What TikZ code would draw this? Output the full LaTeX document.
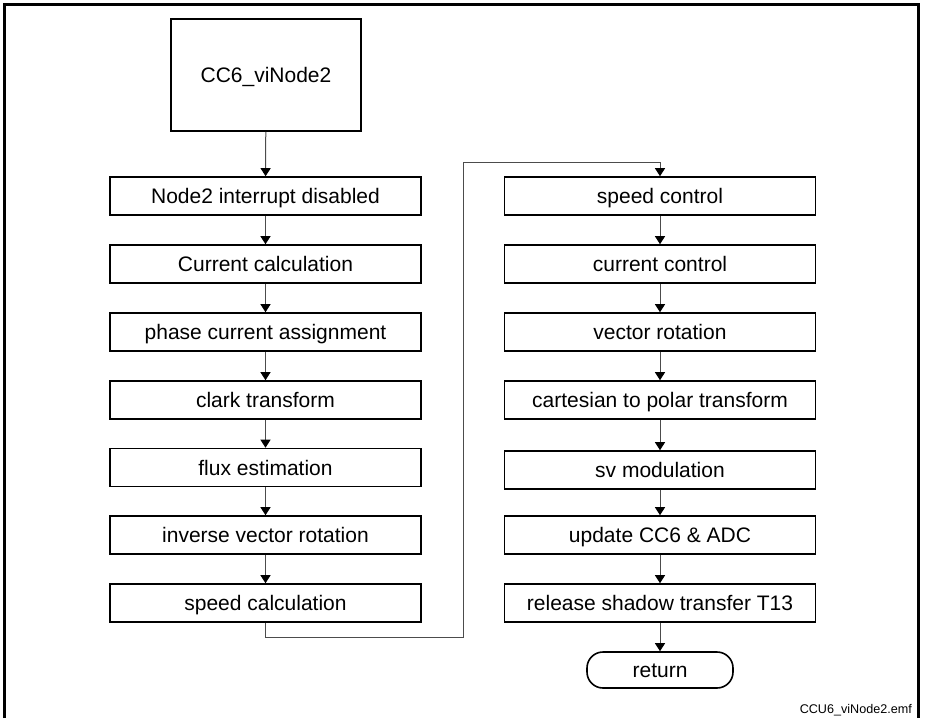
\documentclass[tikz,border=0pt]{standalone}
\usepackage{fontspec}
\setmainfont{Liberation Sans}
\usetikzlibrary{arrows.meta}

\begin{document}
\begin{tikzpicture}[x=1pt, y=-1pt,
    stepbox/.style={draw, line width=1.6pt, minimum width=311pt, minimum height=38pt, inner sep=0pt, text height=15pt, text depth=0pt, font=\fontsize{21}{25}\selectfont},
    flow/.style={draw=black!70, line width=1pt, -{Triangle[length=8pt, width=10pt, black]}}]
    \useasboundingbox (0,0) rectangle (925,718);
    % Draw frame
    \draw[line width=3pt] (4,718) -- (4,4.5) -- (918,4.5) -- (918,718);
    \node[anchor=base east, inner sep=0pt, font=\fontsize{12.6}{15}\selectfont] (file) at (912,713) {CCU6\_viNode2.emf};
    % Draw entry box
    \node[stepbox, minimum width=190pt, minimum height=112pt] (entry) at (266,75) {CC6\_viNode2};
    % Draw left column
    \node[stepbox] (irqoff) at (265.5,196) {Node2 interrupt disabled};
    \node[stepbox] (curcalc) at (265.5,264) {Current calculation};
    \node[stepbox] (phase) at (265.5,332) {phase current assignment};
    \node[stepbox] (clark) at (265.5,400) {clark transform};
    \node[stepbox] (flux) at (265.5,467.5) {flux estimation};
    \node[stepbox] (invrot) at (265.5,535) {inverse vector rotation};
    \node[stepbox] (spdcalc) at (265.5,603) {speed calculation};
    % Draw right column
    \node[stepbox] (spdctl) at (660,196) {speed control};
    \node[stepbox] (curctl) at (660,264) {current control};
    \node[stepbox] (vecrot) at (660,332) {vector rotation};
    \node[stepbox] (polar) at (660,400) {cartesian to polar transform};
    \node[stepbox] (svm) at (660,470) {sv modulation};
    \node[stepbox] (update) at (660,535) {update CC6 \& ADC};
    \node[stepbox] (shadow) at (660,603) {release shadow transfer T13};
    \node[stepbox, minimum width=146pt, minimum height=36pt, rounded corners=16pt] (ret) at (660,670) {return};
    % Draw arrows
    \draw[flow] (entry) -- (irqoff);
    \draw[flow] (irqoff) -- (curcalc);
    \draw[flow] (curcalc) -- (phase);
    \draw[flow] (phase) -- (clark);
    \draw[flow] (clark) -- (flux);
    \draw[flow] (flux) -- (invrot);
    \draw[flow] (invrot) -- (spdcalc);
    % Draw jump to second column
    \coordinate (jog) at (463,637);
    \coordinate (rise) at (463,162);
    \draw[flow] (spdcalc.south) |- (jog) -- (rise) -| (spdctl.north);
    \draw[flow] (spdctl) -- (curctl);
    \draw[flow] (curctl) -- (vecrot);
    \draw[flow] (vecrot) -- (polar);
    \draw[flow] (polar) -- (svm);
    \draw[flow] (svm) -- (update);
    \draw[flow] (update) -- (shadow);
    \draw[flow] (shadow) -- (ret);
\end{tikzpicture}
\end{document}
